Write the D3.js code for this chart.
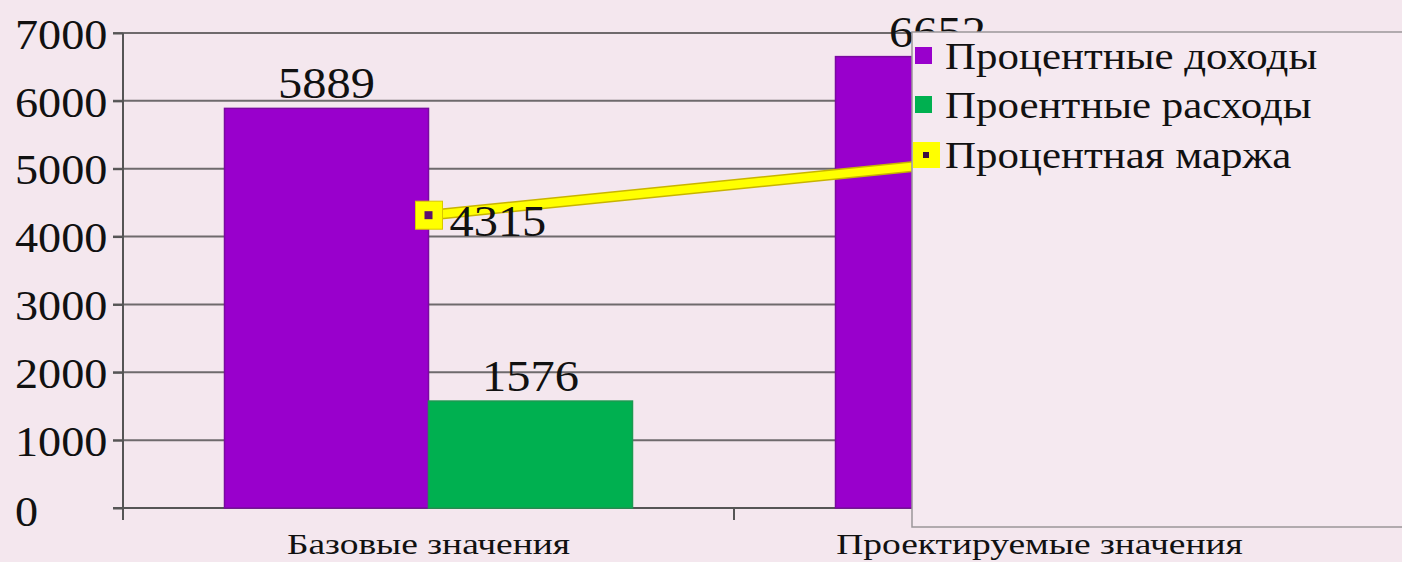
<!DOCTYPE html>
<html><head><meta charset="utf-8">
<script src="https://cdn.jsdelivr.net/npm/d3@7"></script>
<style>
html,body{margin:0;padding:0;background:#f4e7ee;}
svg{display:block;}
svg text{font-family:"Liberation Serif","Times New Roman","DejaVu Serif",serif !important;fill:#111;}
</style></head>
<body>
<svg id="chart" width="1402" height="562"></svg>
<script>
const categories = ["Базовые значения", "Проектируемые значения"];
const incomeValues = [5889, 6652];
const expenseValues = [1576, 1432];
const marginValues = [4315, 5220];
const yTicks = [0, 1000, 2000, 3000, 4000, 5000, 6000, 7000];
const seriesNames = ["Процентные доходы", "Проентные расходы", "Процентная маржа"];
const colors = {income: "#9900cc", expense: "#00b050", margin: "#ffff00"};

(function() {
const svg = d3.select("#chart");
const W = 1402, H = 562;
const mLeft = 123, mRight = 1345, mTop = 33, mBottom = 508;
const legendX = 912;
const SX = 1.1; // horizontal stretch of the original text

const y = d3.scaleLinear().domain([0, 7000]).range([mBottom, mTop]);
const x = d3.scaleBand().domain(categories).range([mLeft, mRight]);
const inset = x.bandwidth() * (1 - 408 / 611) / 2;
const x1 = d3.scaleBand().domain(["income", "expense"]).range([inset, x.bandwidth() - inset]);

// gridlines
svg.append("g").selectAll("line").data(yTicks.filter(d => d > 0)).join("line")
  .attr("x1", mLeft - 10).attr("x2", W).attr("y1", d => y(d)).attr("y2", d => y(d))
  .attr("stroke", "#6e6a6c").attr("stroke-width", 2);

// y axis
const yAxis = d3.axisLeft(y).tickValues(yTicks).tickSize(10).tickFormat(d3.format("d"));
const gy = svg.append("g").attr("transform", `translate(${mLeft},0)`).call(yAxis).attr("font-family", null);
gy.select(".domain").attr("stroke", "#555").attr("stroke-width", 2).attr("d", `M0,${mTop}V${mBottom + 12}`);
gy.selectAll(".tick line").attr("stroke", "#555").attr("stroke-width", 2);
gy.selectAll(".tick text").attr("x", 0).attr("text-anchor", "start")
  .attr("transform", d => `translate(-108,${d === 0 ? 3 : 1}) scale(${SX},1)`)
  .style("font-size", "42px").attr("dy", "0.34em");

// x axis
const xAxis = d3.axisBottom(x).tickSize(0).tickSizeOuter(0);
const gx = svg.append("g").attr("transform", `translate(0,${mBottom})`).call(xAxis).attr("font-family", null);
gx.select(".domain").attr("stroke", "#555").attr("stroke-width", 2).attr("d", `M${mLeft - 10},0H${mRight}`);
gx.selectAll(".tick text").attr("y", 0).attr("dy", 0)
  .attr("transform", "translate(0,46) scale(1.25,1)")
  .style("font-size", "30px");
svg.append("g").selectAll("line").data(categories).join("line")
  .attr("x1", d => x(d) + x.bandwidth()).attr("x2", d => x(d) + x.bandwidth())
  .attr("y1", mBottom).attr("y2", mBottom + 12).attr("stroke", "#555").attr("stroke-width", 2);

// bars
const rows = categories.map((c, i) => ({cat: c, income: incomeValues[i], expense: expenseValues[i], margin: marginValues[i]}));
const gBars = svg.append("g");
["income", "expense"].forEach(key => {
  gBars.selectAll("rect." + key).data(rows).join("rect").attr("class", key)
    .attr("x", d => x(d.cat) + x1(key)).attr("width", x1.bandwidth())
    .attr("y", d => y(d[key])).attr("height", d => y(0) - y(d[key]))
    .attr("fill", colors[key]).attr("stroke", key === "income" ? "#7a0aa0" : "#1a9a50").attr("stroke-width", 1.5);
  // labels only where not fully covered by the legend box
  gBars.selectAll("text." + key).data(rows.filter(d => x(d.cat) + x1(key) < legendX)).join("text").attr("class", key)
    .attr("transform", d => `translate(${x(d.cat) + x1(key) + x1.bandwidth() / 2},${y(d[key]) - 10}) scale(${SX},1)`)
    .attr("text-anchor", "middle").style("font-size", "44px").text(d => d[key]);
});

// margin line
const cx = d => x(d.cat) + x.bandwidth() / 2;
const line = d3.line().x(cx).y(d => y(d.margin));
svg.append("path").datum(rows).attr("d", line).attr("fill", "none")
  .attr("stroke", "#c8b400").attr("stroke-width", 11);
svg.append("path").datum(rows).attr("d", line).attr("fill", "none")
  .attr("stroke", colors.margin).attr("stroke-width", 8);
const mk = svg.append("g");
mk.selectAll("rect.m").data(rows).join("rect").attr("class", "m")
  .attr("x", d => cx(d) - 13).attr("y", d => y(d.margin) - 14).attr("width", 27).attr("height", 28)
  .attr("fill", colors.margin).attr("stroke", "#d8c800").attr("stroke-width", 1);
mk.selectAll("rect.c").data(rows).join("rect").attr("class", "c")
  .attr("x", d => cx(d) - 4).attr("y", d => y(d.margin) - 4).attr("width", 8).attr("height", 8)
  .attr("fill", "#5a1070");
mk.selectAll("text").data(rows.filter(d => cx(d) < legendX)).join("text")
  .attr("transform", d => `translate(${cx(d) + 21},${y(d.margin) + 21}) scale(${SX},1)`)
  .style("font-size", "44px").text(d => d.margin);

// legend
const lg = svg.append("g");
lg.append("rect").attr("x", legendX).attr("y", 32).attr("width", 500).attr("height", 495)
  .attr("fill", "#f5e9f0").attr("stroke", "#9a9699").attr("stroke-width", 1.5);
const legendY = [56, 105, 155];
const lgItems = lg.selectAll("g.item").data(seriesNames).join("g").attr("class", "item")
  .attr("transform", (d, i) => `translate(${legendX},${legendY[i]})`);
lgItems.each(function(d, i) {
  const g = d3.select(this);
  if (i < 2) {
    g.append("rect").attr("x", 3).attr("y", -9).attr("width", 17).attr("height", 17)
      .attr("fill", i === 0 ? colors.income : colors.expense);
  } else {
    g.append("rect").attr("x", 1).attr("y", -13).attr("width", 27).attr("height", 26).attr("fill", colors.margin);
    g.append("rect").attr("x", 11).attr("y", -3).attr("width", 6).attr("height", 6).attr("fill", "#3a1040");
  }
  g.append("text").attr("transform", "translate(33,13) scale(1.13,1)").style("font-size", "38px").text(d);
});
})();
</script>
</body></html>
